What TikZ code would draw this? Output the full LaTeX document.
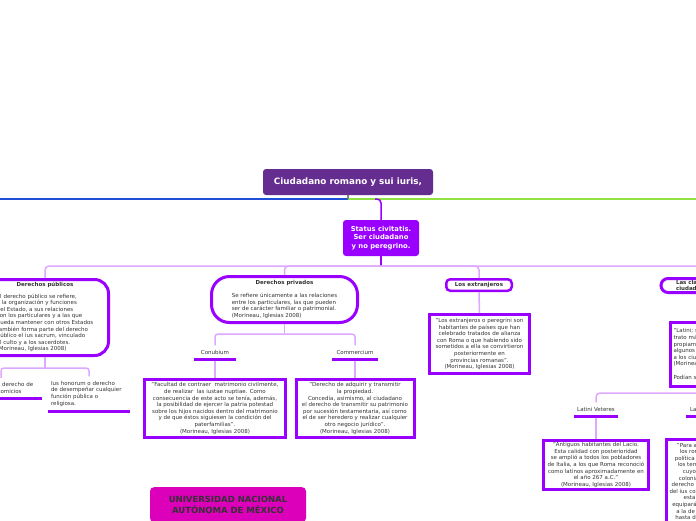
\documentclass[tikz,border=0pt]{standalone}
\usepackage{fontspec}
\setmainfont{DejaVu Sans}
\usetikzlibrary{calc}
\definecolor{titlec}{HTML}{662D91}
\definecolor{vio}{HTML}{9900FF}
\definecolor{lvio}{HTML}{DDA8FF}
\definecolor{blin}{HTML}{1F4ED8}
\definecolor{glin}{HTML}{8FE23F}
\definecolor{unam}{HTML}{DD00BB}
\definecolor{txt}{HTML}{333333}
\newcommand{\fs}{\fontsize{5.5}{6.6}\selectfont}
\newcommand{\hdr}[1]{\multicolumn{1}{@{}c@{}}{\textbf{#1}}}
\begin{document}
\begin{tikzpicture}[x=1pt,y=-1pt,
  every node/.style={inner sep=0pt, text=txt, font=\fs},
  box/.style={draw=vio, line width=3pt, align=center},
  lbl/.style={inner xsep=3pt, inner ysep=4.5pt},
  uline/.style={draw=vio, line width=3pt},
  lc/.style={draw=lvio, line width=1.5pt},
  dc/.style={draw=vio, line width=1.5pt}]
\useasboundingbox (0,0) rectangle (696,520);
\clip (0,0) rectangle (696,520);

% main nodes
\node[fill=titlec, rounded corners=3pt, minimum width=170pt, minimum height=26pt, text=white,
  font=\fontsize{8.8}{10}\selectfont\bfseries] (title) at (348,182) {Ciudadano romano y sui iuris,};
\node[fill=vio, rounded corners=3pt, minimum width=76pt, minimum height=36pt, text=white, align=center,
  font=\fontsize{6.8}{8.2}\selectfont\bfseries] (status) at (381,238) {Status civitatis.\\Ser ciudadano\\y no peregrino.};

\node[box, rounded corners=14pt, minimum width=127pt, minimum height=76pt] (pub) at (45,317.5) {%
\begin{tabular}{@{}l@{}}
\hdr{Derechos públicos}\\[4.6pt]
El derecho público se refiere,\\
a la organización y funciones\\
del Estado, a sus relaciones\\
con los particulares y a las que\\
pueda mantener con otros Estados\\
también forma parte del derecho\\
público el ius sacrum, vinculado\\
al culto y a los sacerdotes.\\
(Morineau, Iglesias 2008)
\end{tabular}};

\node[box, rounded corners=18pt, minimum width=146pt, minimum height=46pt] (priv) at (284.5,299.5) {%
\begin{tabular}{@{}l@{}}
\hdr{Derechos privados}\\[6.6pt]
Se refiere únicamente a las relaciones\\
entre los particulares, las que pueden\\
ser de carácter familiar o patrimonial.\\
(Morineau, Iglesias 2008)
\end{tabular}};

\node[box, line width=2.5pt, rounded corners=4pt, minimum width=65.5pt, minimum height=11.5pt, font=\fs\bfseries] (ext) at (479,285) {Los extranjeros};

\node[box, rounded corners=7pt, minimum width=100pt, minimum height=14pt, text width=70pt, align=left,
  inner xsep=13.5pt, anchor=west, font=\fontsize{5.5}{6}\selectfont\bfseries] (clases) at (659.5,285.5) {Las clases de\\ciudadanos};

% sub labels
\node[lbl, text width=76pt, align=left, anchor=south] (suf) at (1,398) {Ius suffragii o derecho de\\votar en los comicios};
\node[lbl, text width=76pt, align=left, anchor=south] (hon) at (89,411) {Ius honorum o derecho\\de desempeñar cualquier\\función pública o\\religiosa.};
\node[lbl, minimum width=41pt, anchor=south] (conl) at (215,359) {Conubium};
\node[lbl, minimum width=46pt, anchor=south] (coml) at (355,359) {Commercium};
\node[lbl, minimum width=38pt, anchor=south] (vetl) at (596,416) {Latini Veteres};
\node[lbl, minimum width=51pt, anchor=south] (coll) at (711.5,416) {Latini Coloniarii};

% content boxes
\node[box, minimum width=141pt, minimum height=58pt] (conbox) at (215,408.5) {"Facultad de contraer\ \ matrimonio civilmente,\\de realizar\ \ las iustae nuptiae. Como\\consecuencia de este acto se tenía, además,\\la posibilidad de ejercer la patria potestad\\sobre los hijos nacidos dentro del matrimonio\\y de que éstos siguiesen la condición del\\paterfamilias".\\(Morineau, Iglesias 2008)};
\node[box, minimum width=118pt, minimum height=58pt] (combox) at (355,408.5) {"Derecho de adquirir y transmitir\\la propiedad.\\Concedía, asimismo, al ciudadano\\el derecho de transmitir su patrimonio\\por sucesión testamentaria, así como\\el de ser heredero y realizar cualquier\\otro negocio jurídico".\\(Morineau, Iglesias 2008)};
\node[box, minimum width=100pt, minimum height=59pt] (extbox) at (479.5,344) {"Los extranjeros o peregrini son\\habitantes de países que han\\celebrado tratados de alianza\\con Roma o que habiendo sido\\sometidos a ella se convirtieron\\posteriormente en\\provincias romanas".\\(Morineau, Iglesias 2008)};
\node[box, minimum height=64pt, text width=100pt, align=left, inner xsep=3.5pt, anchor=north west] (latbox) at (668.5,320.5) {"Latini; se les daba un\\trato más favorable que a\\propiamente extranjeros y\\algunos derechos iguales\\a los ciudadanos".\\(Morineau, Iglesias 2008)\\[6.6pt]Podían ser de dos clases:};
\node[box, minimum width=105pt, minimum height=49pt] (vetbox) at (596,465) {"Antiguos habitantes del Lacio.\\Esta calidad con posterioridad\\se amplió a todos los pobladores\\de Italia, a los que Roma reconoció\\como latinos aproximadamente en\\el año 267 a.C."\\(Morineau, Iglesias 2008)};
\node[box, minimum width=100pt, inner ysep=4pt, anchor=north west] (colbox) at (664.5,437.5) {"Para afianzar el dominio de\\los romanos siguieron una\\política colonizadora en todos\\los territorios conquistados,\\cuyos habitantes tenían\\coloniarii, que gozaban del\\derecho de commercium, no así\\del ius connubium. Con el tiempo\\esta clase llegó a verse\\equiparándose en sus derechos\\a la de ciudadanos romanos,\\hasta desaparecer como tal".\\(Morineau, Iglesias 2008)};

\node[fill=unam, rounded corners=4pt, minimum width=156pt, inner ysep=9pt, anchor=north, align=center,
  font=\fontsize{8.5}{10.5}\selectfont\bfseries] (unam) at (228,487) {UNIVERSIDAD NACIONAL\\AUTÓNOMA DE MÉXICO};

% connectors
\coordinate (tj) at (348,199);
\coordinate (lend) at (0,199);
\coordinate (rend) at (696,199);
\draw[blin, line width=1.5pt] (lend) -- (tj);
\draw[glin, line width=1.5pt] (tj) -- (rend);
\draw[gray, line width=1.5pt] (title.south) -- (tj);
\coordinate (sj) at (375,199);
\draw[dc, rounded corners=4pt] (sj) -| (status.north);
\coordinate (hj) at (381,266);
\draw[dc] (status.south) -- (hj);
\draw[lc, rounded corners=4pt] (hj) -| (pub.north);
\draw[lc, rounded corners=4pt] (hj) -| (priv.north);
\draw[lc, rounded corners=4pt] (hj) -| (ext.north);
\draw[lc, rounded corners=4pt] (hj) -| (clases.north);

\coordinate (pubj) at (45,368);
\draw[lc] (pub.south) -- (pubj);
\draw[lc, rounded corners=3pt] (pubj) -| (suf.north);
\draw[lc, rounded corners=3pt] (pubj) -| (hon.north);

\coordinate (pj) at (284.5,334);
\draw[lc] (priv.south) -- (pj);
\draw[lc, rounded corners=3pt] (pj) -| (conl.north);
\draw[lc, rounded corners=3pt] (pj) -| (coml.north);
\draw[lc] (conl.south) -- (conbox.north);
\draw[lc] (coml.south) -- (combox.north);

\draw[lc] (ext.south) -- (extbox.north);
\draw[lc] (clases.south) -- (latbox.north);

\coordinate (lj) at (722,393);
\draw[lc] (latbox.south) -- (lj);
\draw[lc, rounded corners=4pt] (lj) -| (vetl.north);
\draw[lc, rounded corners=4pt] (lj) -| (coll.north);
\draw[lc] (vetl.south) -- (vetbox.north);
\draw[lc] (coll.south) -- (colbox.north);

% underlines
\foreach \n in {suf,hon,conl,coml,vetl,coll}
  \draw[uline] (\n.south west) -- (\n.south east);
\end{tikzpicture}
\end{document}
